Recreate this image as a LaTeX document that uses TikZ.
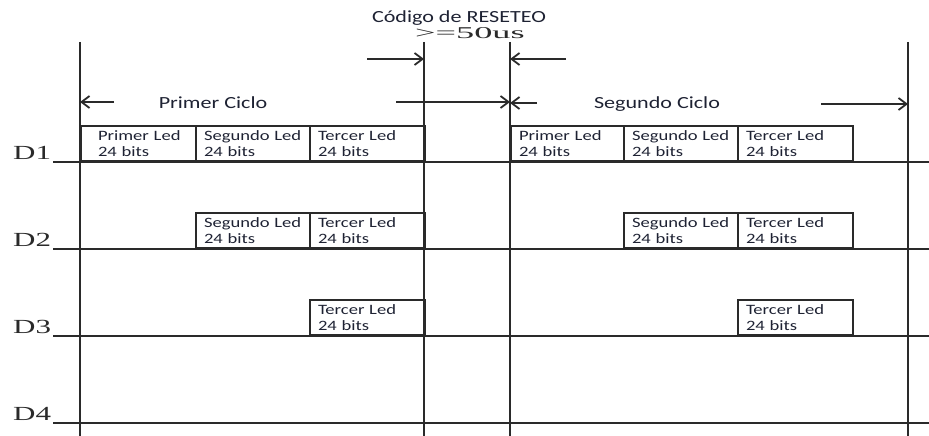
\documentclass[tikz,border=0pt]{standalone}
\usepackage{fontspec}
\setmainfont{Carlito}
\newfontfamily\sansw[FakeStretch=1.3]{Carlito}
\newfontfamily\serifw[FakeStretch=1.55]{Liberation Serif}
\newfontfamily\serifww[FakeStretch=2.2]{Liberation Serif}
\usetikzlibrary{arrows.meta}
\definecolor{ink}{HTML}{2A2A2A}
\definecolor{txt}{HTML}{1E2233}
\begin{document}
\begin{tikzpicture}[x=1pt,y=-1pt,
  grid/.style={draw=ink,line width=2pt},
  ledbox/.style={draw=ink,line width=2pt,anchor=south west,minimum height=35pt,
    text width=#1,inner xsep=8pt,inner ysep=0pt,align=left,text=txt,
    font=\sansw\fontsize{14.3}{15.5}\selectfont},
  arr/.style={draw=ink,line width=2.6pt,-{Straight Barb[length=8pt,width=12pt,line width=1.8pt]}},
  dlabel/.style={anchor=base west,inner sep=0pt,text=ink,font=\serifw\fontsize{20}{20}\selectfont},
  ciclo/.style={anchor=base,inner sep=0pt,text=txt,font=\sansw\fontsize{17}{18}\selectfont}
]
\useasboundingbox (0,0) rectangle (929,436);
% vertical lines
\foreach \n/\x in {1/80,2/424,3/510,4/908}{
  \coordinate (v\n t) at (\x,42);
  \coordinate (v\n b) at (\x,436);
  \draw[grid] (v\n t) -- (v\n b);
}
% horizontal signal lines
\foreach \n/\y in {1/162,2/249,3/336,4/423}{
  \coordinate (h\n l) at (53,\y);
  \coordinate (h\n r) at (929,\y);
  \draw[grid] (h\n l) -- (h\n r);
  \node[dlabel] (lab\n) at (13,\y-3) {D\n};
}
% D1 boxes
\node[ledbox=91pt,inner xsep=12pt] (d1a1) at (80,162) {\hspace*{5pt}Primer Led\\\hspace*{5pt}24 bits};
\node[ledbox=98pt] (d1a2) at (195,162) {Segundo Led\\24 bits};
\node[ledbox=99pt] (d1a3) at (309,162) {Tercer Led\\24 bits};
\node[ledbox=97pt] (d1b1) at (510,162) {Primer Led\\24 bits};
\node[ledbox=98pt] (d1b2) at (623,162) {Segundo Led\\24 bits};
\node[ledbox=99pt] (d1b3) at (737,162) {Tercer Led\\24 bits};
% D2 boxes
\node[ledbox=98pt] (d2a2) at (195,249) {Segundo Led\\24 bits};
\node[ledbox=99pt] (d2a3) at (309,249) {Tercer Led\\24 bits};
\node[ledbox=98pt] (d2b2) at (623,249) {Segundo Led\\24 bits};
\node[ledbox=99pt] (d2b3) at (737,249) {Tercer Led\\24 bits};
% D3 boxes
\node[ledbox=99pt] (d3a3) at (309,336) {Tercer Led\\24 bits};
\node[ledbox=99pt] (d3b3) at (737,336) {Tercer Led\\24 bits};
% titles
\node[anchor=base,inner sep=0pt,text=txt,font=\sansw\fontsize{17}{18}\selectfont] (title) at (459,23) {Código de RESETEO};
\node[anchor=base,inner sep=0pt,text=ink,font=\serifww\fontsize{16.5}{17}\selectfont] (time) at (470,39) {>=50us};
\node[ciclo] (c1) at (213,108) {Primer Ciclo};
\node[ciclo] (c2) at (657,108) {Segundo Ciclo};
% arrows
\coordinate (ta1) at (367,59); \coordinate (ta1e) at (424,59);
\coordinate (ta2) at (566,59); \coordinate (ta2e) at (510,59);
\draw[arr] (ta1) -- (ta1e);
\draw[arr] (ta2) -- (ta2e);
\coordinate (p1) at (114,102); \coordinate (p1e) at (80,102);
\coordinate (p2) at (396,102); \coordinate (p2e) at (510,102);
\coordinate (s1) at (537,103); \coordinate (s1e) at (510,103);
\coordinate (s2) at (821,104); \coordinate (s2e) at (908,104);
\draw[arr,line width=2.2pt] (p1) -- (p1e);
\draw[arr,line width=2pt] (p2) -- (p2e);
\draw[arr,line width=2pt] (s1) -- (s1e);
\draw[arr] (s2) -- (s2e);
\end{tikzpicture}
\end{document}
